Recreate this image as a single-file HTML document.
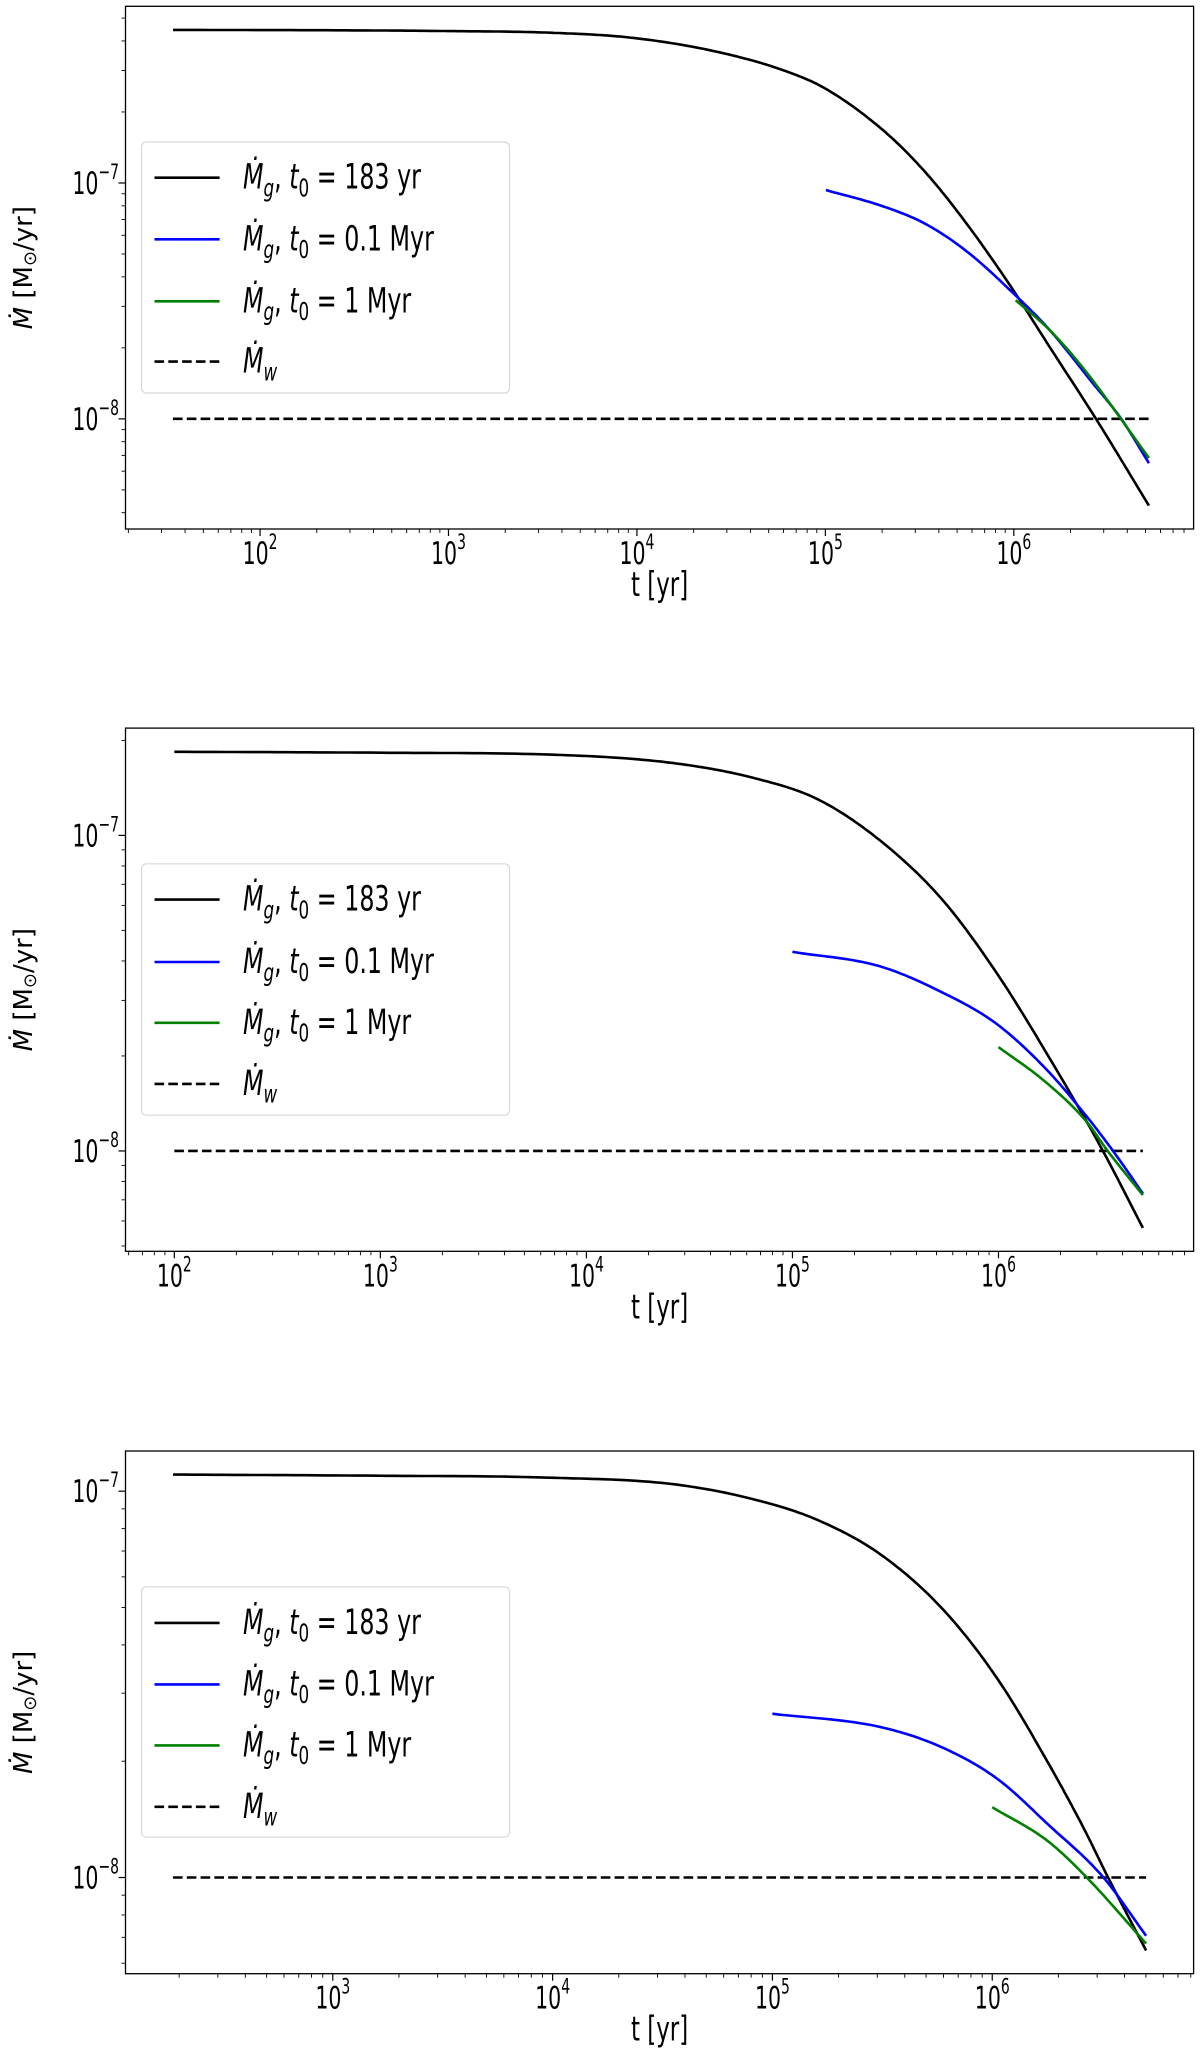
<!DOCTYPE html>
<html><head><meta charset="utf-8"><style>
body{margin:0;background:#fff}
svg{display:block}
text{font-family:"DejaVu Sans","Liberation Sans",sans-serif;fill:#000}
</style></head><body>
<svg id="fig" width="1200" height="2051" viewBox="0 0 1200 2051" xmlns="http://www.w3.org/2000/svg"></svg>
<script>
// ---- Panel 1 data (log10 t, log10 Mdot) ----
const p1BlackT=[1.538,2.5,3.0,3.54,3.98,4.42,4.78,5.0,5.31,5.53,5.75,5.994,6.193,6.436,6.717];
const p1BlackM=[-6.351,-6.353,-6.356,-6.363,-6.385,-6.443,-6.523,-6.60,-6.779,-6.954,-7.173,-7.451,-7.699,-8.0,-8.368];
const p1BlueT=[5.003,5.31,5.53,5.75,5.994,6.193,6.415,6.57,6.717];
const p1BlueM=[-7.03,-7.10,-7.173,-7.29,-7.465,-7.626,-7.845,-8.0,-8.188];
const p1GreenT=[6.01,6.193,6.37,6.717];
const p1GreenM=[-7.497,-7.626,-7.787,-8.166];
// ---- Panel 2 ----
const p2BlackT=[2.0,3.0,3.822,4.423,4.824,5.124,5.425,5.725,5.986,6.226,6.507,6.701];
const p2BlackM=[-6.735,-6.738,-6.744,-6.771,-6.82,-6.886,-7.016,-7.202,-7.431,-7.682,-8.0,-8.244];
const p2BlueT=[5.0,5.425,5.725,5.986,6.226,6.426,6.556,6.701];
const p2BlueM=[-7.369,-7.415,-7.497,-7.595,-7.737,-7.889,-8.0,-8.135];
const p2GreenT=[6.0,6.226,6.426,6.53,6.701];
const p2GreenM=[-7.671,-7.78,-7.906,-8.0,-8.14];
// ---- Panel 3 ----
const p3BlackT=[2.273,3.2,3.983,4.55,4.928,5.211,5.495,5.779,6.024,6.251,6.422,6.527,6.70];
const p3BlackM=[-6.957,-6.96,-6.965,-6.982,-7.023,-7.076,-7.165,-7.308,-7.486,-7.70,-7.879,-8.0,-8.189];
const p3BlueT=[5.0,5.495,5.779,6.024,6.251,6.506,6.70];
const p3BlueM=[-7.576,-7.611,-7.665,-7.745,-7.861,-8.0,-8.151];
const p3GreenT=[6.0,6.251,6.43,6.70];
const p3GreenM=[-7.818,-7.905,-8.0,-8.171];
const windRate=-8;
const xTickExps1=[2,3,4,5,6];
const xTickExps2=[2,3,4,5,6];
const xTickExps3=[3,4,5,6];
const yTickExps=[-7,-8];
const legendLabels=["183 yr","0.1 Myr","1 Myr"];

const NS="http://www.w3.org/2000/svg";
const svg=document.getElementById('fig');
function el(tag,attrs,parent){const e=document.createElementNS(NS,tag);for(const k in attrs)e.setAttribute(k,attrs[k]);(parent||svg).appendChild(e);return e;}

function monotone(xs,ys){
  const n=xs.length,d=[],m=[];
  for(let i=0;i<n-1;i++)d.push((ys[i+1]-ys[i])/(xs[i+1]-xs[i]));
  m[0]=d[0];m[n-1]=d[n-2];
  for(let i=1;i<n-1;i++)m[i]=(d[i-1]*d[i]<=0)?0:(d[i-1]+d[i])/2;
  for(let i=0;i<n-1;i++){
    if(d[i]===0){m[i]=0;m[i+1]=0;continue;}
    const a=m[i]/d[i],b=m[i+1]/d[i],s=a*a+b*b;
    if(s>9){const t=3/Math.sqrt(s);m[i]=t*a*d[i];m[i+1]=t*b*d[i];}
  }
  const out=[];
  for(let i=0;i<n-1;i++){
    const h=xs[i+1]-xs[i];
    for(let k=0;k<20;k++){
      const t=k/20,t2=t*t,t3=t2*t;
      const y=(2*t3-3*t2+1)*ys[i]+(t3-2*t2+t)*h*m[i]+(-2*t3+3*t2)*ys[i+1]+(t3-t2)*h*m[i+1];
      out.push([xs[i]+t*h,y]);
    }
  }
  out.push([xs[n-1],ys[n-1]]);
  return out;
}

function txt(parent,x,y,size,anchor,html,sx,sy,extra){
  const g=el('g',{transform:`translate(${x},${y}) scale(${sx},${sy})`},parent);
  const a={x:0,y:0,'font-size':size,'text-anchor':anchor};
  if(extra)for(const k in extra)a[k]=extra[k];
  const t=el('text',a,g);t.innerHTML=html;return g;
}

function panel(cfg){
  const g=el('g',{});
  
  
  const L=125.5,R=1193.6,T=cfg.top,B=cfg.bottom;
  const sx=v=>L+(v-cfg.xmin)/(cfg.xmax-cfg.xmin)*(R-L);
  const sy=v=>B-(v-cfg.ymin)/(cfg.ymax-cfg.ymin)*(B-T);
  const series=[[cfg.bT,cfg.bM,'#000','black'],[cfg.uT,cfg.uM,'#0000ff','blue'],[cfg.gT,cfg.gM,'#008000','green']];
  const dl=el('line',{x1:sx(cfg.bT[0]),x2:sx(cfg.bT[cfg.bT.length-1]),y1:sy(windRate),y2:sy(windRate),stroke:'#000','stroke-width':2.6,'stroke-dasharray':'9.6,4.2'},g);
  
  
  series.forEach(s=>{
    const pts=monotone(s[0],s[1]).map(p=>sx(p[0]).toFixed(1)+','+sy(p[1]).toFixed(1)).join(' ');
    const p=el('polyline',{points:pts,fill:'none',stroke:s[2],'stroke-width':2.6,'stroke-linejoin':'round'},g);
    
    
  });
  const fr=el('rect',{x:L,y:T,width:R-L,height:B-T,fill:'none',stroke:'#000','stroke-width':1.3},g);
  
  
  for(let e=Math.floor(cfg.xmin);e<=Math.ceil(cfg.xmax);e++){
    for(let m=1;m<10;m++){
      const v=e+Math.log10(m); if(v<cfg.xmin||v>cfg.xmax)continue;
      el('line',{x1:sx(v),x2:sx(v),y1:B,y2:B+(m==1?7:4),stroke:'#000','stroke-width':m==1?1.2:0.9},g);
    }
  }
  cfg.xt.forEach(e=>{
    const t=txt(g,sx(e),B+35,25,'middle',`10<tspan font-size="17" dy="-12">${e}</tspan>`,0.82,1.25);
    
    
  });
  for(let e=Math.floor(cfg.ymin);e<=Math.ceil(cfg.ymax);e++){
    for(let m=1;m<10;m++){
      const v=e+Math.log10(m); if(v<cfg.ymin||v>cfg.ymax)continue;
      el('line',{x1:L,x2:L-(m==1?7:4),y1:sy(v),y2:sy(v),stroke:'#000','stroke-width':m==1?1.2:0.9},g);
    }
  }
  yTickExps.forEach(e=>{
    if(e<cfg.ymin||e>cfg.ymax)return;
    const t=txt(g,119,sy(e)+11,25,'end',`10<tspan font-size="17" dy="-12">\u2212${-e}</tspan>`,0.82,1.25);
    
    
  });
  const xl=txt(g,(L+R)/2,B+67,27,'middle','t [yr]',0.85,1.25);
  
  
  const cy=(T+B)/2;
  const yl=el('text',{x:0,y:0,'font-size':26,'text-anchor':'middle',transform:`translate(32,${cy}) rotate(-90)`},g);
  
  
  yl.innerHTML='<tspan font-style="italic">Ṁ</tspan> [M<tspan font-size="18" dy="4">⊙</tspan><tspan dy="-4">/yr]</tspan>';
  const lg=el('g',{},g);
  
  
  el('rect',{x:141.5,y:cfg.lt,width:368,height:cfg.lb-cfg.lt,rx:5,fill:'#fff','fill-opacity':0.8,stroke:'#d8d8d8','stroke-width':1.2},lg);
  const cols=['#000','#0000ff','#008000','#000'];
  const names=['legend-entry-183yr','legend-entry-0.1myr','legend-entry-1myr','legend-entry-wind'];
  cfg.ly.forEach((y,i)=>{
    const ent=el('g',{},lg);
    
    
    const a={x1:154.5,x2:219.6,y1:y,y2:y,stroke:cols[i],'stroke-width':2.6};
    if(i==3)a['stroke-dasharray']='9.6,4.2';
    el('line',a,ent);
    const html=i<3?`<tspan font-style="italic">Ṁ</tspan><tspan font-style="italic" font-size="19" dy="6">g</tspan><tspan dy="-6">, </tspan><tspan font-style="italic">t</tspan><tspan font-size="19" dy="6">0</tspan><tspan dy="-6"> = ${legendLabels[i]}</tspan>`
                  :`<tspan font-style="italic">Ṁ</tspan><tspan font-style="italic" font-size="19" dy="6">w</tspan>`;
    txt(ent,243,y+11,27,'start',html,0.88,1.3);
  });
}

panel({name:'panel-top',top:6.3,bottom:529,xmin:1.286,xmax:6.954,ymin:-8.467,ymax:-6.251,
  bT:p1BlackT,bM:p1BlackM,uT:p1BlueT,uM:p1BlueM,gT:p1GreenT,gM:p1GreenM,xt:xTickExps1,
  lt:142,lb:393,ly:[177.7,239.3,301.3,361.6]});
panel({name:'panel-middle',top:728.1,bottom:1251.3,xmin:1.763,xmax:6.947,ymin:-8.318,ymax:-6.660,
  bT:p2BlackT,bM:p2BlackM,uT:p2BlueT,uM:p2BlueM,gT:p2GreenT,gM:p2GreenM,xt:xTickExps2,
  lt:863.8,lb:1115.2,ly:[899.6,962,1022.8,1083.9]});
panel({name:'panel-bottom',top:1451,bottom:1973.7,xmin:2.057,xmax:6.916,ymin:-8.249,ymax:-6.896,
  bT:p3BlackT,bM:p3BlackM,uT:p3BlueT,uM:p3BlueM,gT:p3GreenT,gM:p3GreenM,xt:xTickExps3,
  lt:1586.8,lb:1837.1,ly:[1622.9,1684.4,1745.4,1806.8]});
</script>
</body></html>
